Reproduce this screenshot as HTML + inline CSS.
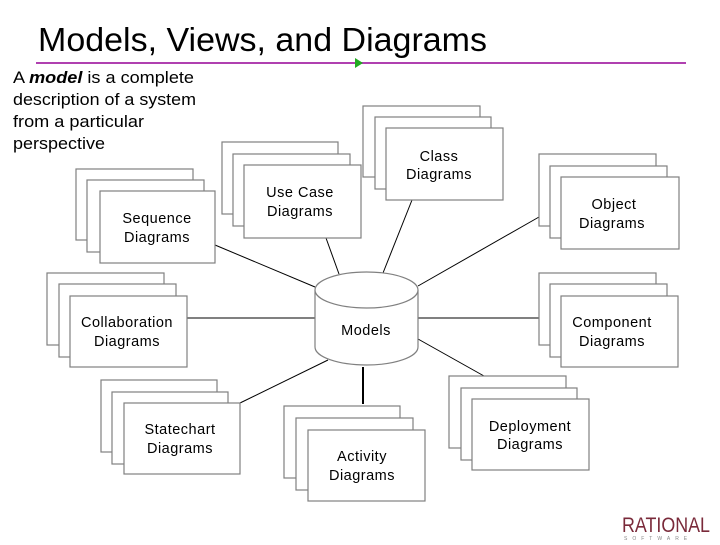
<!DOCTYPE html>
<html><head><style>
body{margin:0;width:720px;height:540px;background:#fff;overflow:hidden;font-family:"Liberation Sans",sans-serif;}
</style></head><body>
<svg width="720" height="540" viewBox="0 0 720 540" xmlns="http://www.w3.org/2000/svg" font-family="Liberation Sans, sans-serif">
<text x="38" y="51" font-size="33" fill="#000" textLength="449" lengthAdjust="spacingAndGlyphs">Models, Views, and Diagrams</text>
<line x1="36" y1="63" x2="686" y2="63" stroke="#b040b0" stroke-width="2"/>
<polygon points="355,58 355,68 363,63" fill="#22aa22"/>
<g font-size="17" fill="#000">
<text x="13" y="83" textLength="181" lengthAdjust="spacingAndGlyphs">A <tspan font-weight="bold" font-style="italic">model</tspan> is a complete</text>
<text x="13" y="105" textLength="183" lengthAdjust="spacingAndGlyphs">description of a system</text>
<text x="13" y="127" textLength="131" lengthAdjust="spacingAndGlyphs">from a particular</text>
<text x="13" y="149" textLength="92" lengthAdjust="spacingAndGlyphs">perspective</text>
</g>
<g stroke="#000" stroke-width="1">
<line x1="215" y1="245" x2="315" y2="287"/>
<line x1="326" y1="238" x2="339" y2="274"/>
<line x1="412" y1="200" x2="383" y2="273"/>
<line x1="539" y1="217" x2="418" y2="286"/>
<line x1="187" y1="318" x2="315" y2="318"/>
<line x1="418" y1="318" x2="539" y2="318"/>
<line x1="240" y1="403" x2="328" y2="360"/>
<line x1="363" y1="367" x2="363" y2="404" stroke-width="2"/>
<line x1="418" y1="339" x2="484" y2="376"/>
</g>
<g fill="#fff" stroke="#808080" stroke-width="1.2">
<rect x="76" y="169" width="117" height="71"/><rect x="87" y="180" width="117" height="72"/><rect x="100" y="191" width="115" height="72"/>
<rect x="222" y="142" width="116" height="72"/><rect x="233" y="154" width="117" height="72"/><rect x="244" y="165" width="117" height="73"/>
<rect x="363" y="106" width="117" height="71"/><rect x="375" y="117" width="116" height="72"/><rect x="386" y="128" width="117" height="72"/>
<rect x="539" y="154" width="117" height="72"/><rect x="550" y="166" width="117" height="72"/><rect x="561" y="177" width="118" height="72"/>
<rect x="47" y="273" width="117" height="72"/><rect x="59" y="284" width="117" height="73"/><rect x="70" y="296" width="117" height="71"/>
<rect x="539" y="273" width="117" height="72"/><rect x="550" y="284" width="117" height="73"/><rect x="561" y="296" width="117" height="71"/>
<rect x="101" y="380" width="116" height="72"/><rect x="112" y="392" width="116" height="72"/><rect x="124" y="403" width="116" height="71"/>
<rect x="284" y="406" width="116" height="72"/><rect x="296" y="418" width="117" height="72"/><rect x="308" y="430" width="117" height="71"/>
<rect x="449" y="376" width="117" height="72"/><rect x="461" y="388" width="116" height="72"/><rect x="472" y="399" width="117" height="71"/>
</g>
<g fill="#fff" stroke="#808080" stroke-width="1.2">
<path d="M315,290 L315,347 A51.5,18 0 0 0 418,347 L418,290"/>
<ellipse cx="366.5" cy="290" rx="51.5" ry="18"/>
</g>
<g font-size="14.5" fill="#000" text-anchor="middle" letter-spacing="0.5">
<text x="157" y="223">Sequence</text><text x="157" y="242">Diagrams</text>
<text x="300" y="197">Use Case</text><text x="300" y="216">Diagrams</text>
<text x="439" y="161">Class</text><text x="439" y="179">Diagrams</text>
<text x="614" y="209">Object</text><text x="612" y="228">Diagrams</text>
<text x="127" y="327">Collaboration</text><text x="127" y="346">Diagrams</text>
<text x="366" y="335">Models</text>
<text x="612" y="327">Component</text><text x="612" y="346">Diagrams</text>
<text x="180" y="434">Statechart</text><text x="180" y="453">Diagrams</text>
<text x="362" y="461">Activity</text><text x="362" y="480">Diagrams</text>
<text x="530" y="431">Deployment</text><text x="530" y="449">Diagrams</text>
</g>
<text x="622" y="532" font-size="21" fill="#7a2a3a" textLength="88" lengthAdjust="spacingAndGlyphs">RATIONAL</text>
<text x="624" y="540" font-size="5" fill="#888" letter-spacing="5">SOFTWARE</text>
</svg>
</body></html>
